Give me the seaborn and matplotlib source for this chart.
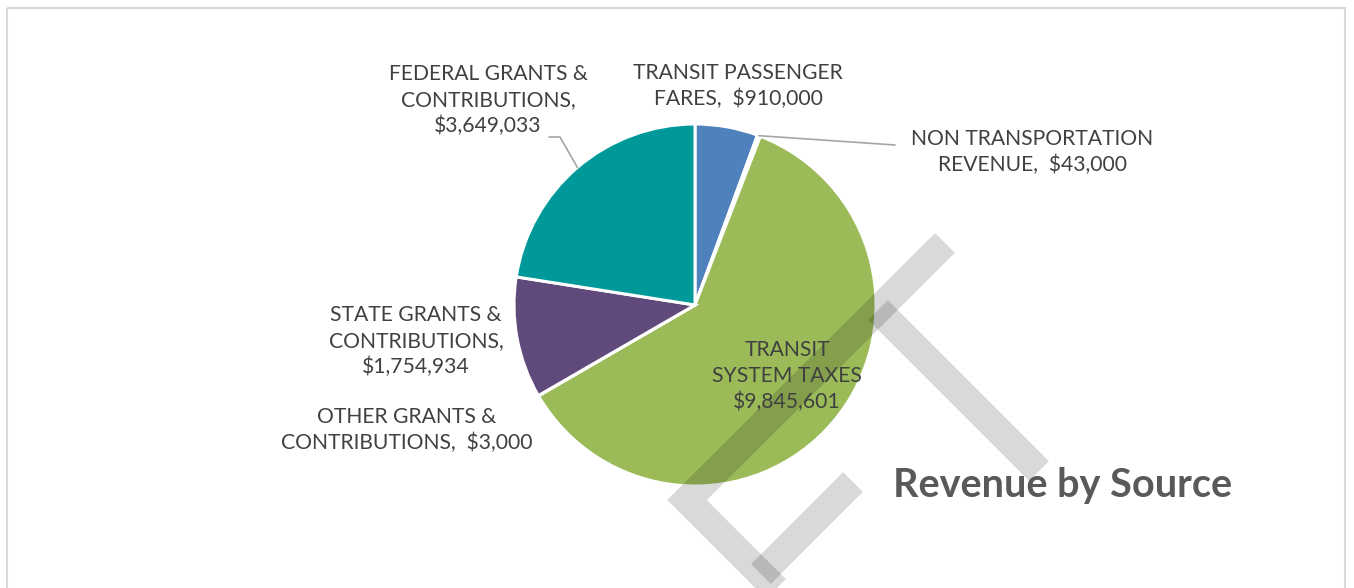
import numpy as np
import matplotlib
matplotlib.use("Agg")
import matplotlib.pyplot as plt
import seaborn as sns

# -- Data -----------------------------------------------------------------------
NAMES = ["TRANSIT PASSENGER\nFARES", "NON TRANSPORTATION\nREVENUE", "TRANSIT\nSYSTEM TAXES",
         "OTHER GRANTS &\nCONTRIBUTIONS", "STATE GRANTS &\nCONTRIBUTIONS", "FEDERAL GRANTS &\nCONTRIBUTIONS"]
AMOUNTS = [910000, 43000, 9845601, 3000, 1754934, 3649033]
SEPS = [",  ", ",  ", "\n", ",  ", ",\n", ",\n"]
COLORS = ["#4f81bd", "#ffffff", "#9bbb59", "#ffffff", "#604a7b", "#009999"]

# label centres in pixels (x, y from top)
LABEL_POS = [(738, 86), (1032, 152), (787, 376), (407, 430), (416, 341), (488, 100)]
TITLE = "Revenue by Source"

# -- Layout ---------------------------------------------------------------------
W, H, DPI = 1354, 588, 100
CX, CY, R = 695, 305, 181
FONT_PT = 15.2
LINE_PX = 29

sns.set_theme(style="white")
plt.rcParams["font.family"] = ["Lato", "DejaVu Sans"]

fig = plt.figure(figsize=(W / DPI, H / DPI), dpi=DPI)
fig.patch.set_facecolor("white")

# pie axes, square box in pixels
ax = fig.add_axes([(CX - R) / W, 1 - (CY + R) / H, 2 * R / W, 2 * R / H])
palette = sns.color_palette(COLORS)
wedges, _ = ax.pie(AMOUNTS, colors=palette, startangle=90, counterclock=False,
                   radius=1.0, wedgeprops=dict(edgecolor="white", linewidth=2.2))
ax.set_xlim(-1, 1); ax.set_ylim(-1, 1)
ax.set_aspect("equal")
ax.axis("off")

# overlay in pixel coordinates
ov = fig.add_axes([0, 0, 1, 1], zorder=5)
ov.set_xlim(0, W); ov.set_ylim(H, 0)
ov.axis("off")

# frame
ov.add_patch(plt.Rectangle((7, 8), 1338, 600, fill=False, edgecolor="#d9d9d9", lw=1.5))

# watermark strokes (draft stamp)
lw_wm = 28 * 72 / DPI
wm = [[(945, 243), (687, 500), (812, 625)],
      [(878, 310), (1039, 471)],
      [(853, 482), (761, 574)]]
for seg in wm:
    xs, ys = zip(*seg)
    ov.plot(xs, ys, color="black", alpha=0.15, lw=lw_wm,
            solid_capstyle="butt", solid_joinstyle="miter", zorder=2)

# edge point of a wedge in pixel coordinates
def edge_point(w):
    ang = np.deg2rad((w.theta1 + w.theta2) / 2)
    return CX + R * np.cos(ang), CY - R * np.sin(ang)

# leader lines
fx, fy = edge_point(wedges[5])
ov.plot([fx, 560, 549], [fy, 137, 137], color="#a6a6a6", lw=1.2, zorder=3)
nx, ny = edge_point(wedges[1])
ov.plot([nx, 895], [ny, 145], color="#a6a6a6", lw=1.2, zorder=3)

# labels
fs_px = FONT_PT * DPI / 72
for name, amt, sep, (lx, ly) in zip(NAMES, AMOUNTS, SEPS, LABEL_POS):
    ov.text(lx, ly, f"{name}{sep}${amt:,}", ha="center", va="center", ma="center",
            fontsize=FONT_PT, color="#404040", linespacing=LINE_PX / fs_px, zorder=4)

ov.text(1063, 486, TITLE, ha="center", va="center", fontsize=28.5, fontweight="bold",
        color="#595959", zorder=4)

fig.savefig("out.png", dpi=DPI, facecolor="white")
